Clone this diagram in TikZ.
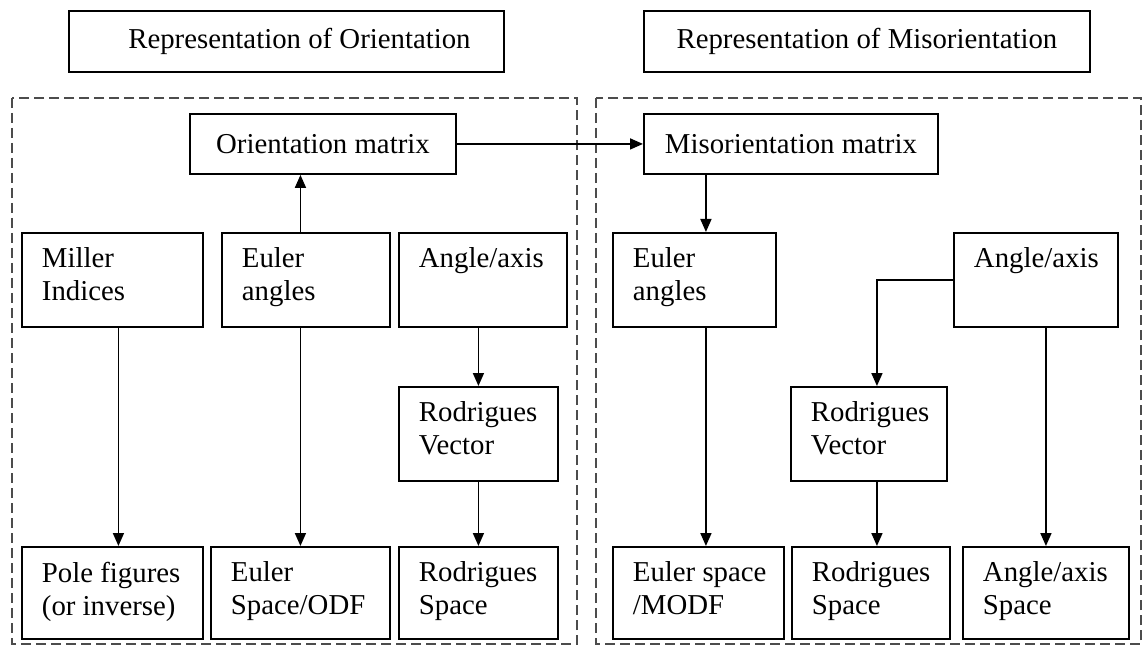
\documentclass[tikz,border=0pt]{standalone}
\usepackage{fontspec}
\setmainfont{Liberation Serif}
\usepackage{tikz}
\usetikzlibrary{arrows.meta}
\newcommand{\cellbox}[3]{\parbox[c][#2][t]{#1}{\raggedright\hyphenpenalty=10000 #3}}

\begin{document}
\begin{tikzpicture}[x=0.5pt,y=-0.5pt,
    every node/.style={font=\fontsize{14.4}{16.5}\selectfont},
    cell/.style={draw, line width=0.95pt, anchor=north west, inner xsep=10pt, inner ysep=7.5pt},
    head/.style={draw, line width=0.95pt, anchor=north west, inner sep=0pt, minimum height=30pt},
    dashbox/.style={draw=black!70, dashed, dash pattern=on 5pt off 2.5pt, line width=0.75pt},
    arr/.style={-{Triangle[length=6.5pt,width=5.5pt]}, line width=0.85pt}]
    \useasboundingbox (0,0) rectangle (1142,647);
    % --- HEADINGS ---
    \node[head, minimum width=217.5pt, minimum height=30.5pt] (ttlA) at (68,10) {\hspace*{13pt}Representation of Orientation};
    \node[head, minimum width=223pt, minimum height=30.5pt] (ttlB) at (643,10) {Representation of Misorientation};
    \draw[dashbox] (12,98) rectangle (577,644);
    \draw[dashbox] (596,98) rectangle (1141,644);

    % --- ORIENTATION (LEFT) ---
    \node[head, minimum width=133pt] (omat) at (189,113) {Orientation matrix};
    \node[cell] (miller) at (21,232) {\cellbox{70.5pt}{32pt}{Miller\\Indices}};
    \node[cell] (eulerA) at (221,232) {\cellbox{64pt}{32pt}{Euler\\angles}};
    \node[cell] (axisA) at (398,232) {\cellbox{64pt}{32pt}{Angle/axis}};
    \node[cell] (rodA) at (398,386) {\cellbox{59.5pt}{32pt}{Rodrigues\\Vector}};
    \node[cell] (pole) at (21,546) {\cellbox{70.5pt}{31pt}{\mbox{Pole figures}\\\mbox{(or inverse)}}};
    \node[cell] (espace) at (210,546) {\cellbox{69.5pt}{31pt}{Euler\\Space/ODF}};
    \node[cell] (rspace) at (398,546) {\cellbox{59.5pt}{31pt}{Rodrigues\\Space}};
    \draw[arr] (espace.north |- eulerA.north) -- (espace.north |- omat.south);
    \draw[arr] ([xshift=3pt]miller.south) -- ([xshift=3pt]pole.north);
    \draw[arr] (espace.north |- eulerA.south) -- (espace.north);
    \draw[arr] (rodA.north |- axisA.south) -- (rodA.north);
    \draw[arr] (rodA.south) -- (rspace.north);

    % --- MISORIENTATION (RIGHT) ---
    \node[head, minimum width=147pt] (mmat) at (643,113) {Misorientation matrix};
    \node[cell] (eulerB) at (612,232) {\cellbox{61.5pt}{32pt}{Euler\\angles}};
    \node[cell] (axisB) at (953,232) {\cellbox{62pt}{32pt}{Angle/axis}};
    \node[cell] (rodB) at (790,386) {\cellbox{58pt}{32pt}{Rodrigues\\Vector}};
    \node[cell] (mspace) at (612,546) {\cellbox{65.5pt}{31pt}{\mbox{Euler space}\\/MODF}};
    \node[cell] (rspaceB) at (791,546) {\cellbox{59pt}{31pt}{Rodrigues\\Space}};
    \node[cell] (aspace) at (962,546) {\cellbox{63pt}{31pt}{Angle/axis\\Space}};
    \coordinate (eB) at ([xshift=5.75pt]eulerB.north);
    \coordinate (rB) at ([xshift=4pt]rodB.north);
    \draw[arr] (omat.east) -- (mmat.west);
    \draw[arr] (eB |- mmat.south) -- (eB);
    \draw[arr] (eB |- eulerB.south) -- (eB |- mspace.north);
    \draw[arr] (axisB.west) -| (rB);
    \draw[arr] (rB |- rodB.south) -- (rB |- rspaceB.north);
    \draw[arr] (aspace.north |- axisB.south) -- (aspace.north);
\end{tikzpicture}
\end{document}
